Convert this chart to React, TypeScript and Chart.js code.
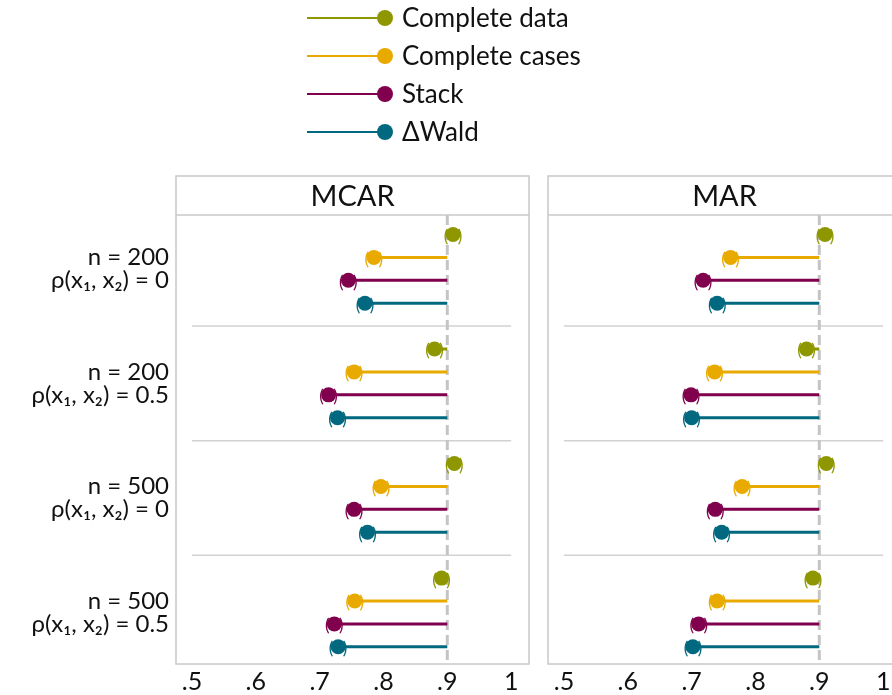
import React, { useEffect, useRef } from "react";
import { Chart, registerables } from "chart.js";

Chart.register(...registerables);

const seriesNames = ["Complete data", "Complete cases", "Stack", "ΔWald"];
const seriesColors = ["#8f9700", "#e9aa00", "#80004e", "#00687f"];
const groupLabels = [
  ["n = 200", "ρ(x₁, x₂) = 0"],
  ["n = 200", "ρ(x₁, x₂) = 0.5"],
  ["n = 500", "ρ(x₁, x₂) = 0"],
  ["n = 500", "ρ(x₁, x₂) = 0.5"],
];
const xTicks = [0.5, 0.6, 0.7, 0.8, 0.9, 1.0];
const referenceValue = 0.9;

// MCAR panel values (per series, one per group)
const mcarCompleteData = [0.909, 0.88, 0.911, 0.891];
const mcarCompleteCases = [0.785, 0.754, 0.796, 0.755];
const mcarStack = [0.745, 0.714, 0.754, 0.723];
const mcarDeltaWald = [0.771, 0.728, 0.775, 0.729];

// MAR panel values
const marCompleteData = [0.909, 0.88, 0.911, 0.89];
const marCompleteCases = [0.761, 0.736, 0.779, 0.74];
const marStack = [0.718, 0.699, 0.737, 0.711];
const marDeltaWald = [0.74, 0.7, 0.747, 0.702];

const FONT = "Lato, 'Open Sans', sans-serif";
const ROWS_PER_GROUP = 5;

function buildDatasets(values: number[][]) {
  return values.map((vals, s) => {
    const data: any[] = [];
    vals.forEach((v, g) => {
      const row = g * ROWS_PER_GROUP + s;
      data.push({ x: v, y: row });
      data.push({ x: referenceValue, y: row });
      data.push({ x: null, y: null });
    });
    return {
      label: seriesNames[s],
      data,
      showLine: true,
      spanGaps: false,
      borderColor: seriesColors[s],
      backgroundColor: seriesColors[s],
      borderWidth: 3,
      pointRadius: (ctx: any) => (ctx.index % 3 === 0 ? 7.5 : 0),
      pointBorderWidth: 0,
      pointBackgroundColor: seriesColors[s],
    };
  });
}

function makePanelPlugin(title: string, showLegend: boolean) {
  return {
    id: "panel_" + title,
    beforeDatasetsDraw(chart: any) {
      const { ctx, chartArea, scales } = chart;
      const xs = scales.x;
      const ys = scales.y;
      ctx.save();
      // separators
      ctx.strokeStyle = "#d2d2d2";
      ctx.lineWidth = 1.5;
      for (let g = 1; g < groupLabels.length; g++) {
        const y = ys.getPixelForValue(g * ROWS_PER_GROUP - 1);
        ctx.beginPath();
        ctx.moveTo(xs.getPixelForValue(xTicks[0]), y);
        ctx.lineTo(xs.getPixelForValue(xTicks[xTicks.length - 1]), y);
        ctx.stroke();
      }
      // reference dashed line
      const rx = xs.getPixelForValue(referenceValue);
      ctx.strokeStyle = "#c4c4c4";
      ctx.lineWidth = 3;
      ctx.setLineDash([10, 5]);
      ctx.beginPath();
      ctx.moveTo(rx, chartArea.top);
      ctx.lineTo(rx, chartArea.bottom);
      ctx.stroke();
      ctx.setLineDash([]);
      // parentheses around markers
      ctx.font = "17px " + FONT;
      ctx.textAlign = "center";
      ctx.textBaseline = "middle";
      chart.data.datasets.forEach((ds: any, i: number) => {
        const meta = chart.getDatasetMeta(i);
        ctx.fillStyle = ds.borderColor;
        meta.data.forEach((pt: any, j: number) => {
          if (j % 3 !== 0) return;
          ctx.fillText("(", pt.x - 7, pt.y + 2);
          ctx.fillText(")", pt.x + 7, pt.y + 2);
        });
      });
      ctx.restore();
    },
    afterDraw(chart: any) {
      const { ctx, chartArea } = chart;
      ctx.save();
      const top = 176;
      ctx.strokeStyle = "#c8c8c8";
      ctx.lineWidth = 1.5;
      ctx.strokeRect(chartArea.left, top, chartArea.right - chartArea.left, chartArea.bottom - top);
      ctx.beginPath();
      ctx.moveTo(chartArea.left, chartArea.top);
      ctx.lineTo(chartArea.right, chartArea.top);
      ctx.stroke();
      ctx.fillStyle = "#111";
      ctx.font = "29px " + FONT;
      ctx.textAlign = "center";
      ctx.textBaseline = "middle";
      ctx.fillText(title, (chartArea.left + chartArea.right) / 2, (top + chartArea.top) / 2 + 1);
      if (showLegend) {
        seriesNames.forEach((name, i) => {
          const y = 18 + i * 38;
          ctx.strokeStyle = seriesColors[i];
          ctx.lineWidth = 2;
          ctx.beginPath();
          ctx.moveTo(307, y);
          ctx.lineTo(385, y);
          ctx.stroke();
          ctx.fillStyle = seriesColors[i];
          ctx.beginPath();
          ctx.arc(385, y, 8, 0, Math.PI * 2);
          ctx.fill();
          ctx.fillStyle = "#111";
          ctx.font = "26px " + FONT;
          ctx.textAlign = "left";
          ctx.textBaseline = "middle";
          ctx.fillText(name, 402, y + 1);
        });
      }
      ctx.restore();
    },
  };
}

function makeConfig(values: number[][], title: string, isLeft: boolean, width: number): any {
  return {
    type: "scatter",
    data: { datasets: buildDatasets(values) },
    plugins: [makePanelPlugin(title, isLeft)],
    options: {
      animation: false,
      responsive: false,
      events: [],
      layout: {
        padding: isLeft
          ? { left: 0, right: width - 529, top: 215, bottom: 0 }
          : { left: 548, right: width - 901, top: 215, bottom: 0 },
      },
      plugins: { legend: { display: false }, tooltip: { enabled: false } },
      scales: {
        x: {
          type: "linear",
          min: 0.475,
          max: 1.028,
          grid: { display: false, drawTicks: false },
          border: { display: false },
          afterBuildTicks: (scale: any) => {
            scale.ticks = xTicks.map((v) => ({ value: v }));
          },
          afterFit: (scale: any) => {
            scale.height = 31;
          },
          ticks: {
            padding: 3,
            autoSkip: false,
            maxRotation: 0,
            color: "#111",
            font: { family: FONT, size: 25 },
            callback: (v: any) => {
              const n = Number(v);
              if (Math.abs(n - 1) < 1e-9) return "1";
              return n.toFixed(1).replace(/^0/, "");
            },
          },
        },
        y: {
          type: "linear",
          reverse: true,
          min: -0.85,
          max: 18.75,
          display: isLeft,
          grid: { display: false, drawTicks: false },
          border: { display: false },
          afterBuildTicks: (scale: any) => {
            scale.ticks = groupLabels.map((_, g) => ({ value: g * ROWS_PER_GROUP + 1.5 }));
          },
          afterFit: (scale: any) => {
            scale.width = isLeft ? 176 : 0;
          },
          ticks: {
            padding: 7,
            autoSkip: false,
            color: "#111",
            font: { family: FONT, size: 24, lineHeight: 0.96 },
            callback: (v: any) => {
              const g = Math.round((Number(v) - 1.5) / ROWS_PER_GROUP);
              return groupLabels[g] || "";
            },
          },
        },
      },
    },
  };
}

export default function App() {
  const leftRef = useRef<HTMLCanvasElement | null>(null);
  const rightRef = useRef<HTMLCanvasElement | null>(null);

  useEffect(() => {
    Chart.defaults.font.family = FONT;
    const left = new Chart(
      leftRef.current as HTMLCanvasElement,
      makeConfig([mcarCompleteData, mcarCompleteCases, mcarStack, mcarDeltaWald], "MCAR", true, 892)
    );
    const right = new Chart(
      rightRef.current as HTMLCanvasElement,
      makeConfig([marCompleteData, marCompleteCases, marStack, marDeltaWald], "MAR", false, 910)
    );
    return () => {
      left.destroy();
      right.destroy();
    };
  }, []);

  return (
    <div
      style={{
        position: "absolute",
        left: 0,
        top: 0,
        width: 892,
        height: 695,
        overflow: "hidden",
        background: "#fff",
      }}
    >
      <canvas ref={rightRef} width={910} height={695} style={{ position: "absolute", left: 0, top: 0 }} />
      <canvas ref={leftRef} width={892} height={695} style={{ position: "absolute", left: 0, top: 0 }} />
    </div>
  );
}
